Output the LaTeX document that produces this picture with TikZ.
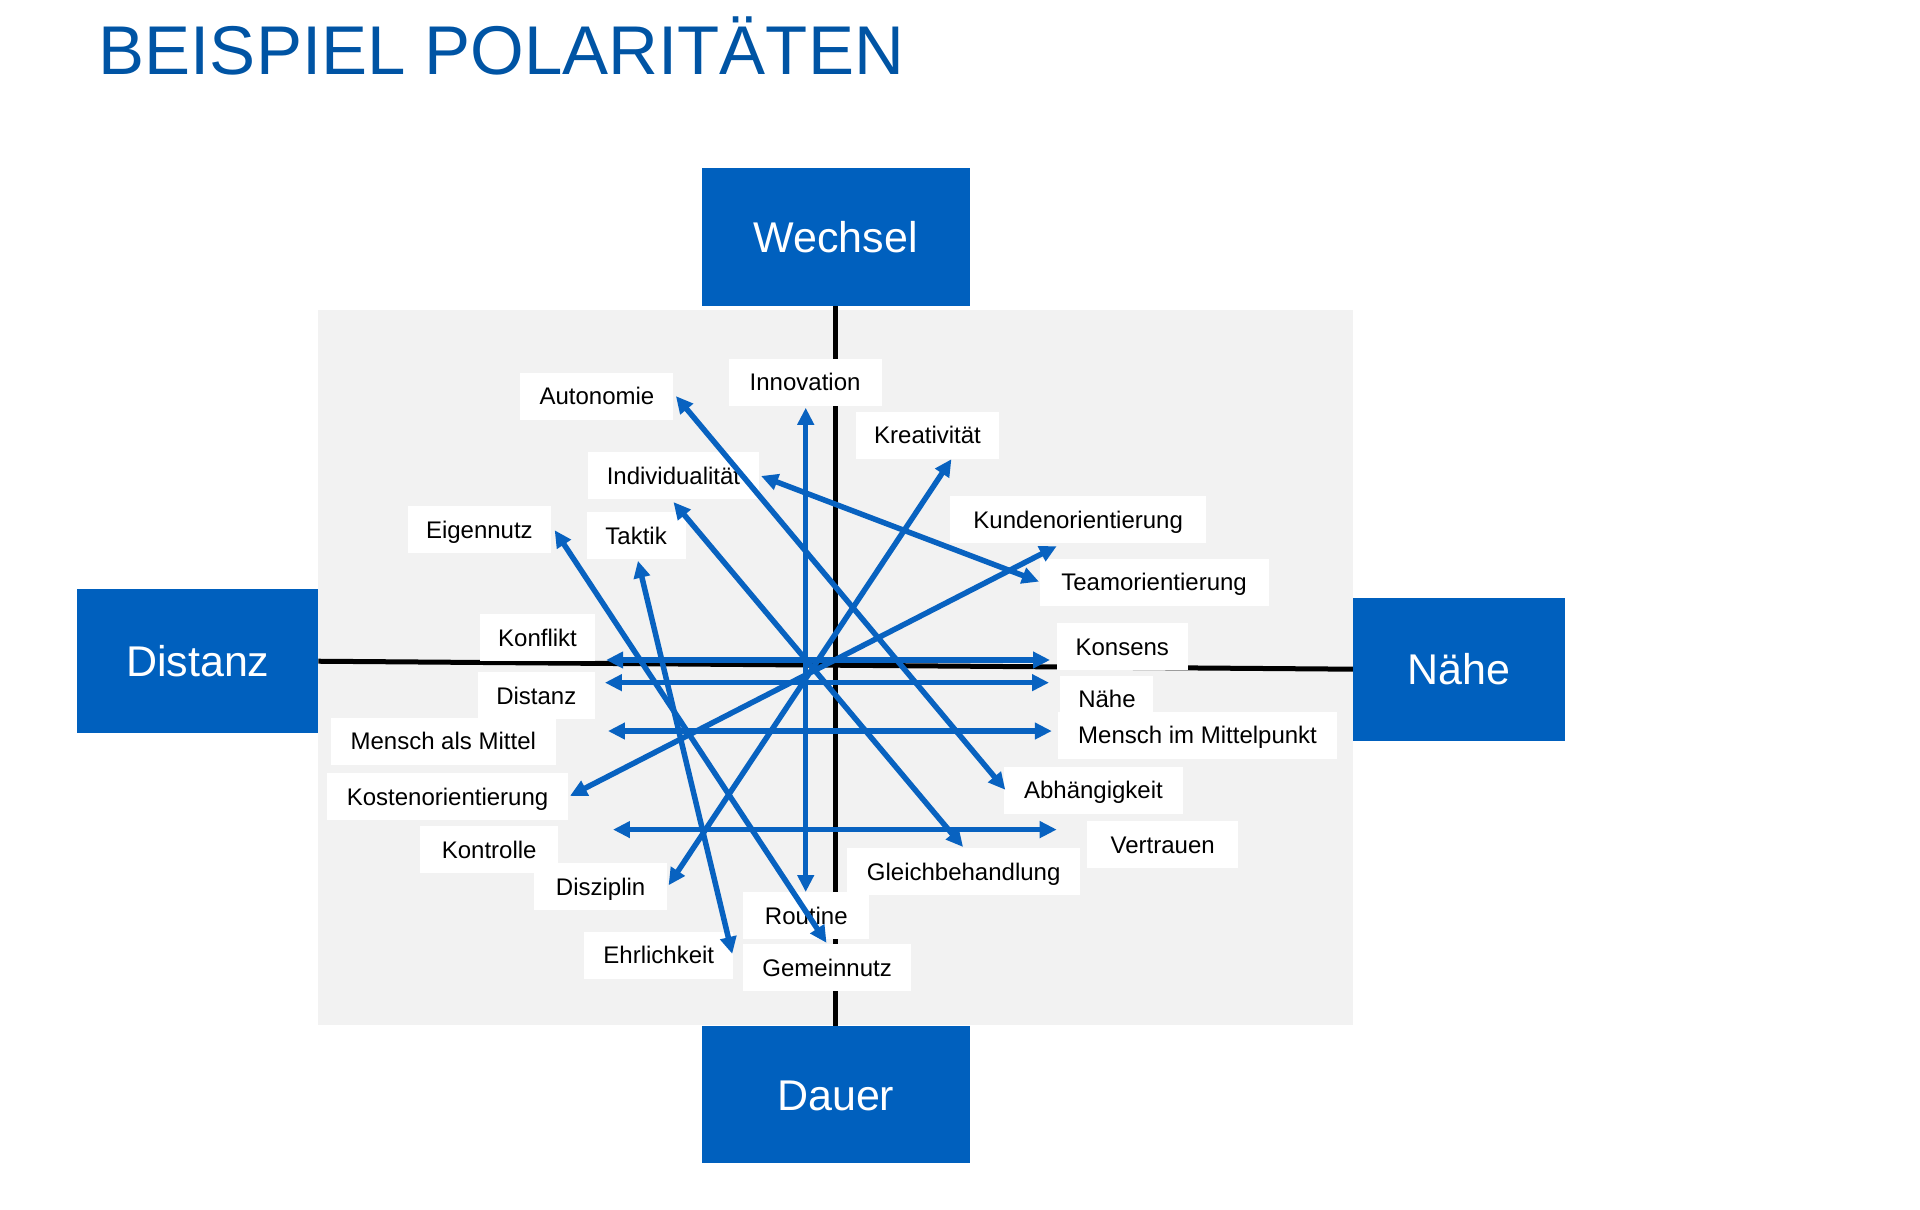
\documentclass[tikz,border=0pt]{standalone}
\usepackage{fontspec}
\setmainfont{Liberation Sans}
\usetikzlibrary{arrows.meta}
\definecolor{boxblue}{RGB}{0,96,190}
\definecolor{titleblue}{RGB}{0,84,164}
\definecolor{arrblue}{RGB}{8,98,192}
\definecolor{bggray}{RGB}{242,242,242}
\tikzset{
  lab/.style={fill=white, inner sep=0pt, minimum height=47pt,
    font=\fontsize{24}{28}\selectfont, text height=22pt, text depth=5pt},
  bigbox/.style={fill=boxblue, inner sep=0pt, text=white,
    font=\fontsize{43}{50}\selectfont, text height=40pt, text depth=9pt},
  arr/.style={draw=arrblue, line width=5.5pt,
    {Triangle[length=17pt,width=16pt]}-{Triangle[length=17pt,width=16pt]}},
  axisline/.style={draw=black, line width=5pt}
}
\begin{document}
\begin{tikzpicture}[x=1.2245pt,y=-1.2245pt]
\useasboundingbox (0,0) rectangle (1568,988);
% title
\node[anchor=base west, inner sep=0pt, text=titleblue, font=\fontsize{69}{80}\selectfont] (title) at (80.5,61) {BEISPIEL POLARITÄTEN};
% gray background
\fill[bggray] (260,253) rectangle (1105,837);
% pole boxes
\node[bigbox, minimum width=268pt, minimum height=138pt] (wechsel) at (682.5,193.5) {Wechsel};
\node[bigbox, minimum width=241pt, minimum height=144.5pt] (distanzbox) at (161.5,540) {Distanz};
\node[bigbox, minimum width=212pt, minimum height=143pt] (naehebox) at (1191.5,546.5) {Nähe};
\node[bigbox, minimum width=268pt, minimum height=137pt] (dauer) at (682.5,894) {Dauer};
% axes
\draw[axisline] (wechsel.south) -- (dauer.north);
\draw[axisline] (distanzbox.east) -- (naehebox.west);
% labels
\node[lab, minimum width=153pt] (autonomie) at (487.5,323.5) {Autonomie};
\node[lab, minimum width=153pt] (innovation) at (657.5,312) {Innovation};
\node[lab, minimum width=143pt] (kreativ) at (757.5,355.5) {Kreativität};
\node[lab, minimum width=171pt] (individ) at (550,388.5) {Individualität};
\node[lab, minimum width=143pt] (eigennutz) at (391.5,432.5) {Eigennutz};
\node[lab, minimum width=99pt] (taktik) at (519.5,437.5) {Taktik};
\node[lab, minimum width=256pt] (kunden) at (880.5,424.5) {Kundenorientierung};
\node[lab, minimum width=229pt] (team) at (942.5,475.5) {Teamorientierung};
\node[lab, minimum width=115pt] (konflikt) at (439,521) {Konflikt};
\node[lab, minimum width=131pt] (konsens) at (916.5,528) {Konsens};
\node[lab, minimum width=117.5pt] (distanz) at (438,568) {Distanz};
\node[lab, minimum width=93pt] (naehe) at (904,571) {Nähe};
\node[lab, minimum width=225pt] (mmittel) at (362,605.5) {Mensch als Mittel};
\node[lab, minimum width=279pt] (mmittelpunkt) at (978,600.5) {Mensch im Mittelpunkt};
\node[lab, minimum width=241pt] (kosten) at (365.5,650.5) {Kostenorientierung};
\node[lab, minimum width=179pt] (abhaeng) at (893,645.5) {Abhängigkeit};
\node[lab, minimum width=138pt] (kontrolle) at (399.5,694) {Kontrolle};
\node[lab, minimum width=150.6pt] (vertrauen) at (949.5,690) {Vertrauen};
\node[lab, minimum width=233pt] (gleich) at (787,712) {Gleichbehandlung};
\node[lab, minimum width=133.5pt] (disziplin) at (490.5,724) {Disziplin};
\node[lab, minimum width=126pt] (routine) at (658.5,748) {Routine};
\node[lab, minimum width=149pt] (ehrlich) at (538,780) {Ehrlichkeit};
\node[lab, minimum width=168pt] (gemein) at (675.5,790.5) {Gemeinnutz};
% arrow end points
\coordinate (pInno) at (658,333);
\coordinate (pRout) at (658,728.5);
\coordinate (pAuto) at (552,323.5);
\coordinate (pAbh) at (821,645);
\coordinate (pKrea) at (777,375);
\coordinate (pDisz) at (546,723);
\coordinate (pIndA) at (621.5,388.7);
\coordinate (pTeam) at (848.5,475);
\coordinate (pKund) at (863,446);
\coordinate (pKost) at (465.5,650);
\coordinate (pTakt) at (521,458);
\coordinate (pEhrl) at (598,779);
\coordinate (pEige) at (453,433);
\coordinate (pGeme) at (675,770);
\coordinate (pIndB) at (550,410);
\coordinate (pGlei) at (786.5,691.7);
\coordinate (pKonfl) at (495,539);
\coordinate (pKons) at (857.5,539);
\coordinate (pDist) at (494,557.5);
\coordinate (pNaeh) at (856.7,557.5);
\coordinate (pMMit) at (496.5,597);
\coordinate (pMMp) at (859,597);
\coordinate (pKontr) at (500.6,677.5);
\coordinate (pVertr) at (863,677.5);
% arrows
\draw[arr] (pInno) -- (pRout);
\draw[arr] (pAuto) -- (pAbh);
\draw[arr] (pKrea) -- (pDisz);
\draw[arr] (pIndA) -- (pTeam);
\draw[arr] (pKund) -- (pKost);
\draw[arr] (pTakt) -- (pEhrl);
\draw[arr] (pEige) -- (pGeme);
\draw[arr] (pIndB) -- (pGlei);
\draw[arr] (pKonfl) -- (pKons);
\draw[arr] (pDist) -- (pNaeh);
\draw[arr] (pMMit) -- (pMMp);
\draw[arr] (pKontr) -- (pVertr);
\end{tikzpicture}
\end{document}
